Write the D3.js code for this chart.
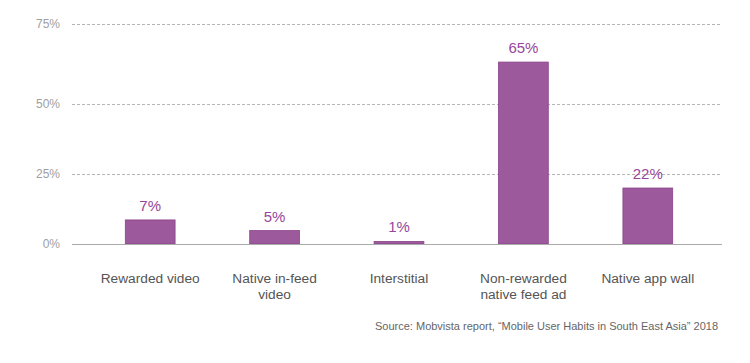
<!DOCTYPE html>
<html>
<head>
<meta charset="utf-8">
<script src="https://cdn.jsdelivr.net/npm/d3@7"></script>
<style>
  body { margin: 0; background: #fff; }
  text { font-family: "Liberation Sans", Arial, sans-serif; }
</style>
</head>
<body>
<div id="chart"></div>
<script>
// data (bar heights as drawn, labels as printed)
var categories = [
  ["Rewarded video"],
  ["Native in-feed", "video"],
  ["Interstitial"],
  ["Non-rewarded", "native feed ad"],
  ["Native app wall"]
];
var values = [8.6, 4.8, 0.9, 65, 20];
var valueLabels = ["7%", "5%", "1%", "65%", "22%"];
var gridTicks = [0, 25, 50];
var topTickLabel = "75%";
var source = "Source: Mobvista report, \u201cMobile User Habits in South East Asia\u201d 2018";

var width = 750, height = 363;
var plotLeft = 72, plotRight = 722, plotTop = 24, plotBottom = 244;

var svg = d3.select("#chart").append("svg")
    .attr("width", width)
    .attr("height", height);

// top grid line sits above 75% in the original, keep the same spread
var y = d3.scaleLinear()
    .domain([0, 78.6])
    .range([plotBottom, plotTop]);

var x = d3.scaleBand()
    .domain(d3.range(values.length))
    .range([88, 710])
    .paddingInner(0.6)
    .paddingOuter(0.3);

// grid
var grid = svg.append("g").attr("class", "grid");
grid.selectAll("line.dash")
    .data(gridTicks.filter(function(d) { return d > 0; }))
    .enter().append("line")
    .attr("class", "dash")
    .attr("x1", plotLeft).attr("x2", plotRight)
    .attr("y1", function(d) { return y(d) + 0.5; })
    .attr("y2", function(d) { return y(d) + 0.5; })
    .attr("stroke", "#b4b4b4")
    .attr("stroke-dasharray", "3,2");

grid.append("line")
    .attr("x1", plotLeft).attr("x2", plotRight)
    .attr("y1", y.range()[1] + 0.5).attr("y2", y.range()[1] + 0.5)
    .attr("stroke", "#b4b4b4")
    .attr("stroke-dasharray", "3,2");

// y tick labels
var tickLabels = gridTicks.map(function(d) { return { v: y(d), t: d + "%" }; });
tickLabels.push({ v: y.range()[1], t: topTickLabel });
svg.append("g").selectAll("text")
    .data(tickLabels)
    .enter().append("text")
    .attr("x", 60)
    .attr("y", function(d) { return d.v + 4; })
    .attr("text-anchor", "end")
    .attr("font-size", 12)
    .attr("fill", "#a0a0a0")
    .text(function(d) { return d.t; });

// bars
svg.append("g").selectAll("rect")
    .data(values)
    .enter().append("rect")
    .attr("x", function(d, i) { return x(i); })
    .attr("y", function(d) { return y(d); })
    .attr("width", x.bandwidth())
    .attr("height", function(d) { return y(0) - y(d); })
    .attr("fill", "#9c5a9c")
    .attr("stroke", "#8b428b")
    .attr("stroke-width", 0.8);

// baseline
svg.append("line")
    .attr("x1", plotLeft).attr("x2", plotRight)
    .attr("y1", y(0) + 0.5).attr("y2", y(0) + 0.5)
    .attr("stroke", "#aaa");

// value labels
svg.append("g").selectAll("text")
    .data(values)
    .enter().append("text")
    .attr("x", function(d, i) { return x(i) + x.bandwidth() / 2; })
    .attr("y", function(d) { return y(d) - 9; })
    .attr("text-anchor", "middle")
    .attr("font-size", 15)
    .attr("fill", "#97469a")
    .text(function(d, i) { return valueLabels[i]; });

// category labels
var cat = svg.append("g").selectAll("text")
    .data(categories)
    .enter().append("text")
    .attr("x", function(d, i) { return x(i) + x.bandwidth() / 2; })
    .attr("y", 283)
    .attr("text-anchor", "middle")
    .attr("font-size", 13.7)
    .attr("fill", "#555");
cat.selectAll("tspan")
    .data(function(d) { return d; })
    .enter().append("tspan")
    .attr("x", function() { return d3.select(this.parentNode).attr("x"); })
    .attr("dy", function(d, i) { return i ? 16 : 0; })
    .text(function(d) { return d; });

// source note
svg.append("text")
    .attr("x", 718)
    .attr("y", 330)
    .attr("text-anchor", "end")
    .attr("font-size", 11)
    .attr("fill", "#666")
    .text(source);
</script>
</body>
</html>
